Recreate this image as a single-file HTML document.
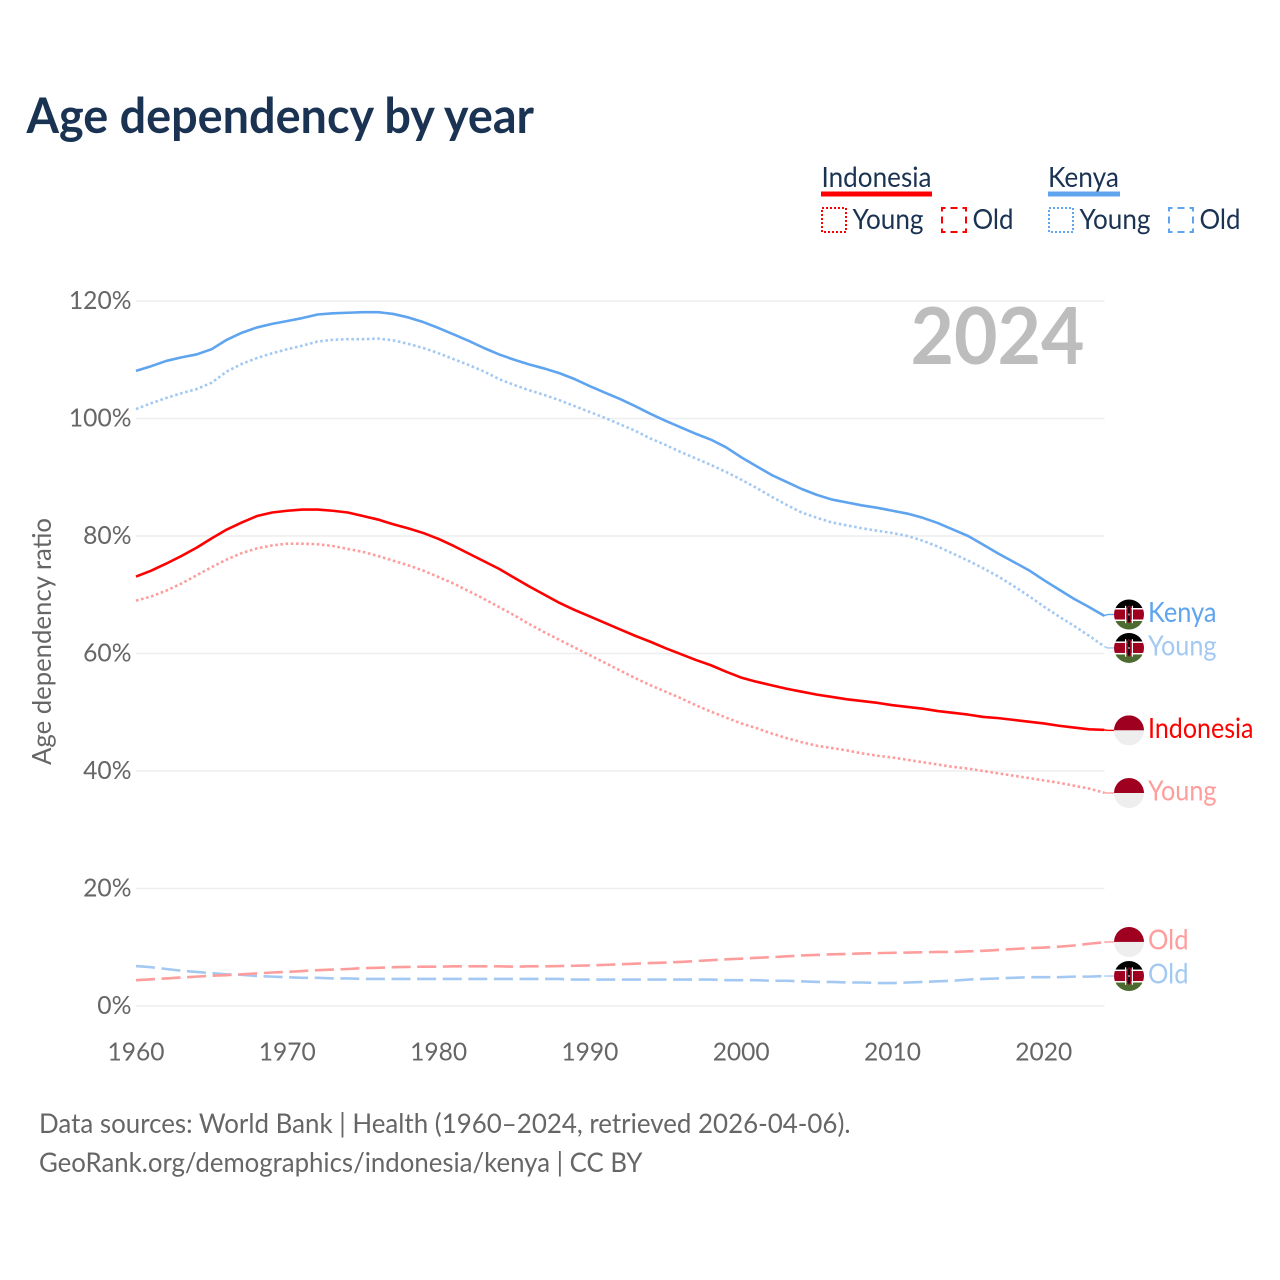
<!DOCTYPE html>
<html lang="en">
<head>
<meta charset="utf-8">
<title>Age dependency by year</title>
<style>
  html, body { margin: 0; padding: 0; background: #fff; }
  svg { display: block; }
  text { font-family: Lato, Carlito, "Liberation Sans", sans-serif; }
</style>
</head>
<body>
<svg id="chart" xmlns="http://www.w3.org/2000/svg" width="1280" height="1280" viewBox="0 0 1280 1280">
  <defs>
    <clipPath id="flag-clip" clipPathUnits="objectBoundingBox"><circle cx="0.5" cy="0.5" r="0.5"></circle></clipPath>
  </defs>
  <rect width="1280" height="1280" fill="#fff"></rect>

  <text x="26.5" y="133" font-size="48.5" font-weight="700" fill="#1a3352" textLength="507.5" lengthAdjust="spacingAndGlyphs">Age dependency by year</text>

  <g>
    <text x="821.5" y="187" font-size="28" fill="#1a3352" textLength="110" lengthAdjust="spacingAndGlyphs">Indonesia</text>
    <rect x="821" y="191.5" width="111" height="5" fill="#ff0000"></rect>
    <rect x="822" y="208" width="24" height="24" fill="none" stroke="#ff0000" stroke-width="2" stroke-dasharray="2 2"></rect>
    <text x="852.5" y="229" font-size="28" fill="#1a3352" textLength="71" lengthAdjust="spacingAndGlyphs">Young</text>
    <rect x="942" y="208" width="24" height="24" fill="none" stroke="#ff0000" stroke-width="2" stroke-dasharray="7 5" stroke-dashoffset="3.5"></rect>
    <text x="972.5" y="229" font-size="28" fill="#1a3352" textLength="41" lengthAdjust="spacingAndGlyphs">Old</text>

    <text x="1048" y="187" font-size="28" fill="#1a3352" textLength="71" lengthAdjust="spacingAndGlyphs">Kenya</text>
    <rect x="1048" y="191.5" width="72" height="5" fill="#5fa4ee"></rect>
    <rect x="1049" y="208" width="24" height="24" fill="none" stroke="#5fa4ee" stroke-width="2" stroke-dasharray="2 2"></rect>
    <text x="1079.5" y="229" font-size="28" fill="#1a3352" textLength="71" lengthAdjust="spacingAndGlyphs">Young</text>
    <rect x="1169" y="208" width="24" height="24" fill="none" stroke="#5fa4ee" stroke-width="2" stroke-dasharray="7 5" stroke-dashoffset="3.5"></rect>
    <text x="1199.5" y="229" font-size="28" fill="#1a3352" textLength="41" lengthAdjust="spacingAndGlyphs">Old</text>
  </g>

  <g id="grid"></g>
  <g id="y-ticks"></g>
  <g id="x-ticks"></g>

  <text x="910.5" y="364" font-size="79" font-weight="700" fill="#bdbdbd" textLength="174" lengthAdjust="spacingAndGlyphs">2024</text>

  <text transform="translate(51 765) rotate(-90)" x="0" y="0" font-size="26" fill="#666666" textLength="247" lengthAdjust="spacingAndGlyphs">Age dependency ratio</text>

  <g id="series"></g>
  <g id="end-labels"></g>

  <text x="39" y="1133" font-size="27.5" fill="#666666" textLength="811.5" lengthAdjust="spacingAndGlyphs">Data sources: World Bank | Health (1960–2024, retrieved 2026-04-06).</text>
  <text x="39" y="1172" font-size="27.5" fill="#666666" textLength="603.5" lengthAdjust="spacingAndGlyphs">GeoRank.org/demographics/indonesia/kenya | CC BY</text>
</svg>

<script>
// ---- Chart data (percent, one value per year from firstYear) ----
const firstYear = 1960;
const xTickYears = [1960, 1970, 1980, 1990, 2000, 2010, 2020];
const yTickValues = [0, 20, 40, 60, 80, 100, 120];

const kenyaTotal = [
  108.1,108.9,109.8,110.4,110.9,111.8,113.4,114.6,115.5,116.1,
  116.6,117.1,117.7,117.9,118.0,118.1,118.1,117.8,117.2,116.4,
  115.4,114.3,113.2,112.0,110.9,110.0,109.2,108.5,107.7,106.7,
  105.5,104.4,103.3,102.1,100.8,99.6,98.5,97.4,96.4,95.1,
  93.4,91.9,90.4,89.2,88.0,87.0,86.2,85.7,85.2,84.8,
  84.3,83.8,83.1,82.2,81.1,80.0,78.5,77.0,75.6,74.2,
  72.5,70.9,69.3,67.9,66.4
];
const kenyaYoung = [
  101.6,102.6,103.5,104.3,105.0,106.1,108.0,109.3,110.3,111.1,
  111.8,112.4,113.1,113.4,113.5,113.5,113.6,113.3,112.7,112.0,
  111.1,110.1,109.1,108.0,106.7,105.7,104.8,104.0,103.1,102.1,
  101.1,100.1,99.0,97.9,96.6,95.5,94.3,93.2,92.1,90.9,
  89.6,88.2,86.7,85.3,84.0,83.1,82.3,81.8,81.3,80.9,
  80.5,80.0,79.2,78.2,77.0,75.8,74.5,73.1,71.5,69.8,
  68.0,66.3,64.7,63.0,61.2
];
const kenyaOld = [
  6.8,6.6,6.3,6.0,5.8,5.6,5.4,5.3,5.1,5.0,
  4.9,4.8,4.8,4.7,4.7,4.6,4.6,4.6,4.6,4.6,
  4.6,4.6,4.6,4.6,4.6,4.6,4.6,4.6,4.6,4.5,
  4.5,4.5,4.5,4.5,4.5,4.5,4.5,4.5,4.5,4.4,
  4.4,4.4,4.3,4.3,4.2,4.1,4.1,4.0,4.0,3.9,
  3.9,4.0,4.1,4.2,4.3,4.5,4.6,4.7,4.8,4.9,
  4.9,4.9,5.0,5.0,5.1
];
const indonesiaTotal = [
  73.1,74.1,75.3,76.6,78.0,79.6,81.1,82.3,83.4,84.0,
  84.3,84.5,84.5,84.3,84.0,83.4,82.8,82.0,81.3,80.5,
  79.5,78.3,77.0,75.7,74.4,72.9,71.4,70.0,68.6,67.4,
  66.3,65.2,64.1,63.0,62.0,60.9,59.9,58.9,58.0,56.9,
  55.9,55.2,54.6,54.0,53.5,53.0,52.6,52.2,51.9,51.6,
  51.2,50.9,50.6,50.2,49.9,49.6,49.2,49.0,48.7,48.4,
  48.1,47.7,47.4,47.1,47.0
];
const indonesiaYoung = [
  69.0,69.7,70.7,71.9,73.3,74.7,76.0,77.1,77.9,78.4,
  78.7,78.7,78.6,78.3,77.8,77.3,76.6,75.8,75.0,74.1,
  73.0,71.9,70.6,69.3,67.9,66.5,65.0,63.6,62.3,61.0,
  59.7,58.4,57.1,55.8,54.6,53.5,52.4,51.2,50.1,49.1,
  48.1,47.3,46.4,45.6,44.9,44.3,43.9,43.5,43.0,42.6,
  42.3,41.9,41.5,41.1,40.7,40.4,40.0,39.6,39.2,38.8,
  38.4,38.0,37.5,37.0,36.3
];
const indonesiaOld = [
  4.4,4.55,4.7,4.85,5.0,5.15,5.25,5.4,5.55,5.7,
  5.8,5.95,6.1,6.2,6.3,6.45,6.5,6.6,6.65,6.7,
  6.7,6.75,6.75,6.75,6.75,6.7,6.75,6.75,6.8,6.85,
  6.9,7.0,7.1,7.2,7.3,7.4,7.5,7.65,7.8,7.95,
  8.05,8.2,8.3,8.45,8.6,8.7,8.8,8.85,8.95,9.0,
  9.05,9.1,9.15,9.2,9.2,9.3,9.4,9.55,9.7,9.85,
  9.95,10.1,10.3,10.6,10.85
];

// ---- Axis functions ----
const SVG_NS = 'http://www.w3.org/2000/svg';
function xScale(year) { return 136 + (year - firstYear) * 15.13; }
function yScale(value) { return 1006 - value * 5.875; }

function make(tag, attrs, parent) {
  const el = document.createElementNS(SVG_NS, tag);
  Object.keys(attrs).forEach(function (k) { el.setAttribute(k, attrs[k]); });
  parent.appendChild(el);
  return el;
}

// ---- Gridlines and y ticks ----
const gridG = document.getElementById('grid');
const yTicksG = document.getElementById('y-ticks');
yTickValues.forEach(function (v) {
  const line = make('line', { x1: 136, x2: 1104.5, y1: yScale(v), y2: yScale(v), stroke: '#eeeeee', 'stroke-width': 1.5 }, gridG);
  
  
  const label = v + '%';
  const t = make('text', { x: 131.5, y: yScale(v) + 8, 'text-anchor': 'end', 'font-size': 25.5, fill: '#666666',
    textLength: (label.length - 1) * 14.2 + 20, lengthAdjust: 'spacingAndGlyphs' }, yTicksG);
  t.textContent = label;
  
  
});

// ---- X ticks ----
const xTicksG = document.getElementById('x-ticks');
xTickYears.forEach(function (yr) {
  const t = make('text', { x: xScale(yr), y: 1060.5, 'text-anchor': 'middle', 'font-size': 25.5, fill: '#666666',
    textLength: 57, lengthAdjust: 'spacingAndGlyphs' }, xTicksG);
  t.textContent = String(yr);
  
  
});

// ---- Series lines ----
const seriesG = document.getElementById('series');
function drawLine(values, color, dash, name) {
  const pts = values.map(function (v, i) {
    return xScale(firstYear + i).toFixed(2) + ',' + yScale(v).toFixed(2);
  }).join(' ');
  const attrs = { points: pts, fill: 'none', stroke: color, 'stroke-width': 2.6, 'stroke-linejoin': 'round' };
  if (dash) attrs['stroke-dasharray'] = dash;
  const el = make('polyline', attrs, seriesG);
  
  
}
const KENYA = '#5fa4ee', KENYA_LIGHT = '#a3c9f3', INDO = '#ff0000', INDO_LIGHT = '#ff9c9c';
drawLine(kenyaTotal, KENYA, null, 'line-kenya-total');
drawLine(kenyaYoung, KENYA_LIGHT, '2.6 2.6', 'line-kenya-young');
drawLine(kenyaOld, KENYA_LIGHT, '19 6.6', 'line-kenya-old');
drawLine(indonesiaTotal, INDO, null, 'line-indonesia-total');
drawLine(indonesiaYoung, INDO_LIGHT, '2.6 2.6', 'line-indonesia-young');
drawLine(indonesiaOld, INDO_LIGHT, '19 6.6', 'line-indonesia-old');

// ---- Flags and end labels ----
const labelsG = document.getElementById('end-labels');
function drawFlag(country, cy, name) {
  const g = make('g', { transform: 'translate(1114 ' + (cy - 15) + ')', 'clip-path': 'url(#flag-clip)' }, labelsG);
  
  
  make('rect', { width: 30, height: 30, fill: 'none' }, g);
  if (country === 'indonesia') {
    make('rect', { width: 30, height: 15, fill: '#a00020' }, g);
    make('rect', { y: 15, width: 30, height: 15, fill: '#eeeeee' }, g);
  } else {
    make('rect', { width: 30, height: 10, fill: '#000000' }, g);
    make('rect', { y: 8.5, width: 30, height: 13, fill: '#ffffff' }, g);
    make('rect', { y: 10, width: 30, height: 10, fill: '#a00020' }, g);
    make('rect', { y: 21.5, width: 30, height: 8.5, fill: '#4d6b30' }, g);
    make('ellipse', { cx: 15, cy: 15, rx: 3.4, ry: 8.7, fill: '#a00020' }, g);
    make('rect', { x: 11, y: 6.3, width: 1.2, height: 17.4, fill: '#ffffff' }, g);
    make('rect', { x: 17.8, y: 6.3, width: 1.2, height: 17.4, fill: '#ffffff' }, g);
    make('rect', { x: 14, y: 7.5, width: 2, height: 15, fill: '#111111' }, g);
    make('rect', { x: 14.5, y: 14, width: 1, height: 2, fill: '#ffffff' }, g);
  }
}
function drawEndLabel(values, nudge, country, text, color, textWidth, name) {
  const last = values[values.length - 1];
  const yEnd = yScale(last);
  const cy = yEnd + nudge;
  const xEnd = xScale(firstYear + values.length - 1);
  const conn = make('line', { x1: xEnd, y1: yEnd, x2: xEnd + 3, y2: cy, stroke: color, 'stroke-width': 1.4 }, labelsG);
  
  
  const conn2 = make('line', { x1: xEnd + 3, y1: cy, x2: 1114, y2: cy, stroke: color, 'stroke-width': 1.4 }, labelsG);
  
  
  drawFlag(country, cy, name + '-flag');
  const t = make('text', { x: 1148, y: cy + 7.5, 'font-size': 28, fill: color, textLength: textWidth, lengthAdjust: 'spacingAndGlyphs' }, labelsG);
  t.textContent = text;
  
  
}
drawEndLabel(kenyaTotal, -1.4, 'kenya', 'Kenya', KENYA, 68.5, 'end-kenya-total');
drawEndLabel(kenyaYoung, 1.5, 'kenya', 'Young', KENYA_LIGHT, 68.5, 'end-kenya-young');
drawEndLabel(kenyaOld, 0, 'kenya', 'Old', KENYA_LIGHT, 40.5, 'end-kenya-old');
drawEndLabel(indonesiaTotal, 0.5, 'indonesia', 'Indonesia', INDO, 105.5, 'end-indonesia-total');
drawEndLabel(indonesiaYoung, 0.3, 'indonesia', 'Young', INDO_LIGHT, 68.5, 'end-indonesia-young');
drawEndLabel(indonesiaOld, -0.3, 'indonesia', 'Old', INDO_LIGHT, 40.5, 'end-indonesia-old');
</script>
</body>
</html>
